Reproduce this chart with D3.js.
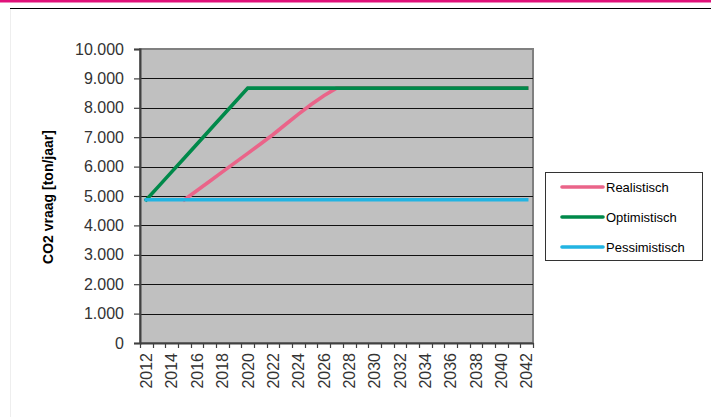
<!DOCTYPE html>
<html>
<head>
<meta charset="utf-8">
<script src="https://cdn.jsdelivr.net/npm/d3@7"></script>
<style>
  html, body { margin: 0; padding: 0; background: #fff; }
  svg { display: block; font-family: Arial, "Liberation Sans", sans-serif; }
</style>
</head>
<body>
<svg id="chart" width="711" height="417"></svg>
<script>
// CO2 demand scenarios, ton per year
const years = d3.range(2012, 2043);
const yTicks = [0, 1000, 2000, 3000, 4000, 5000, 6000, 7000, 8000, 9000, 10000];

const realistisch = [null, null, null, 4870, 5185, 5500, 5820, 6135, 6450, 6768, 7093, 7440, 7784, 8113, 8413, 8670,
  8670, 8670, 8670, 8670, 8670, 8670, 8670, 8670, 8670, 8670, 8670, 8670, 8670, 8670, 8670];
const optimistisch = [4870, 5345, 5820, 6295, 6770, 7245, 7720, 8195, 8670, 8670, 8670, 8670, 8670, 8670, 8670, 8670,
  8670, 8670, 8670, 8670, 8670, 8670, 8670, 8670, 8670, 8670, 8670, 8670, 8670, 8670, 8670];
const pessimistisch = [4870, 4870, 4870, 4870, 4870, 4870, 4870, 4870, 4870, 4870, 4870, 4870, 4870, 4870, 4870, 4870,
  4870, 4870, 4870, 4870, 4870, 4870, 4870, 4870, 4870, 4870, 4870, 4870, 4870, 4870, 4870];

const seriesNames = ["Realistisch", "Optimistisch", "Pessimistisch"];
const seriesColors = ["#EA6489", "#00894A", "#22B4E2"];
const seriesValues = [realistisch, optimistisch, pessimistisch];

const svg = d3.select("#chart");
const plot = { left: 140, right: 533, top: 49, bottom: 343 };

// page header: magenta band and black rule
svg.append("rect").attr("x", 0).attr("y", 0).attr("width", 711).attr("height", 2.5).attr("fill", "#E0127A");
svg.append("line").attr("x1", 10).attr("x2", 711).attr("y1", 8.5).attr("y2", 8.5)
  .attr("stroke", "#000").attr("stroke-width", 1.2);
svg.append("line").attr("x1", 10.5).attr("x2", 10.5).attr("y1", 9).attr("y2", 417)
  .attr("stroke", "#eeeeee").attr("stroke-width", 1);

const x = d3.scaleBand().domain(years).range([plot.left, plot.right]).padding(0);
const y = d3.scaleLinear().domain([0, 10000]).range([plot.bottom, plot.top]);
const cx = d => x(d) + x.bandwidth() / 2;

const nl = d3.formatLocale({ decimal: ",", thousands: ".", grouping: [3], currency: ["€", ""] });
const fmt = nl.format(",.0f");

// plot background
svg.append("rect")
  .attr("x", plot.left).attr("y", plot.top)
  .attr("width", plot.right - plot.left).attr("height", plot.bottom - plot.top)
  .attr("fill", "#C0C0C0").attr("stroke", "#808080").attr("stroke-width", 2);

// horizontal grid
svg.append("g").selectAll("line")
  .data(yTicks.filter(v => v > 0 && v < 10000))
  .join("line")
  .attr("x1", plot.left).attr("x2", plot.right)
  .attr("y1", d => Math.round(y(d)) + 0.5).attr("y2", d => Math.round(y(d)) + 0.5)
  .attr("stroke", "#111").attr("stroke-width", 1.2);

// y axis
const yAxis = svg.append("g")
  .attr("transform", `translate(${plot.left},0)`)
  .call(d3.axisLeft(y).tickValues(yTicks).tickFormat(fmt).tickSize(6).tickPadding(10));
yAxis.select(".domain").attr("stroke", "#404040").attr("stroke-width", 2);
yAxis.selectAll(".tick line").attr("stroke", "#404040").attr("stroke-width", 1.2);
yAxis.selectAll(".tick text").attr("font-size", 16).attr("fill", "#333").attr("font-family", "Arial, 'Liberation Sans', sans-serif");

// x axis: tick marks on category boundaries, labels every second year
const xAxis = svg.append("g")
  .attr("transform", `translate(0,${plot.bottom})`)
  .call(d3.axisBottom(x).tickSize(0).tickFormat(d => (d - 2012) % 2 === 0 ? d : ""));
xAxis.select(".domain").attr("stroke", "#404040").attr("stroke-width", 2);
xAxis.selectAll(".tick text")
  .attr("font-size", 16).attr("fill", "#333").attr("font-family", "Arial, 'Liberation Sans', sans-serif")
  .attr("text-anchor", "end")
  .attr("transform", "rotate(-90)")
  .attr("x", -10).attr("y", 0).attr("dy", "0.36em");
const boundaries = years.map(d => x(d)).concat([plot.right]);
svg.append("g").selectAll("line")
  .data(boundaries)
  .join("line")
  .attr("x1", d => Math.round(d) + 0.5).attr("x2", d => Math.round(d) + 0.5)
  .attr("y1", plot.bottom).attr("y2", plot.bottom + 5)
  .attr("stroke", "#404040").attr("stroke-width", 1.2);

// y axis title
svg.append("text")
  .attr("transform", `translate(53,${(plot.top + plot.bottom) / 2 + 1}) rotate(-90)`)
  .attr("text-anchor", "middle")
  .attr("font-size", 14).attr("font-weight", "bold").attr("fill", "#000")
  .text("CO2 vraag [ton/jaar]");

// scenario lines
const line = d3.line()
  .defined(d => d.v !== null)
  .x(d => cx(d.year))
  .y(d => y(d.v));

seriesValues.forEach((vals, i) => {
  svg.append("path")
    .datum(years.map((yr, j) => ({ year: yr, v: vals[j] })))
    .attr("d", line)
    .attr("fill", "none")
    .attr("stroke", seriesColors[i])
    .attr("stroke-width", 3.6)
    .attr("stroke-linecap", "square")
    .attr("stroke-linejoin", "miter");
});

// legend
const legend = svg.append("g");
legend.append("rect")
  .attr("x", 545.5).attr("y", 172.5).attr("width", 157).attr("height", 88)
  .attr("fill", "#fff").attr("stroke", "#333").attr("stroke-width", 1);
seriesNames.forEach((name, i) => {
  const ly = 187 + i * 30;
  legend.append("line")
    .attr("x1", 562).attr("x2", 603).attr("y1", ly).attr("y2", ly)
    .attr("stroke", seriesColors[i]).attr("stroke-width", 3.6).attr("stroke-linecap", "round");
  legend.append("text")
    .attr("x", 606).attr("y", ly).attr("dy", "0.36em")
    .attr("font-size", 13).attr("fill", "#000")
    .text(name);
});
</script>
</body>
</html>
